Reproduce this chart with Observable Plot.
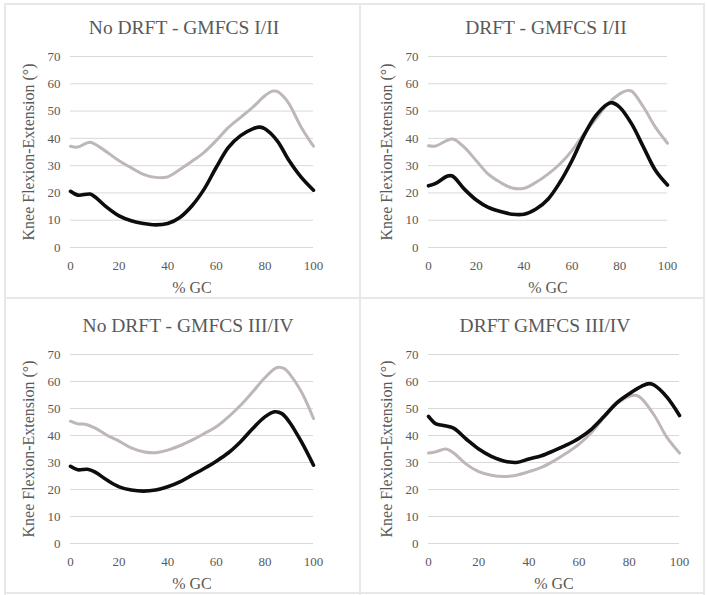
<!DOCTYPE html>
<html><head><meta charset="utf-8">
<script src="https://cdn.jsdelivr.net/npm/d3@7"></script>
<script src="https://cdn.jsdelivr.net/npm/@observablehq/plot@0.6"></script>
<style>
body{margin:0;background:#fff;}
#wrap{position:relative;width:707px;height:595px;overflow:hidden;background:#fff;font-family:"Liberation Serif",serif;}
#wrap svg, #wrap svg text{font-family:"Liberation Serif",serif !important;}
.panel{position:absolute;}
.bd{position:absolute;background:#e8e8e8;}
</style></head><body><div id="wrap"></div>
<script>
// ---- data ----
const titles = ["No DRFT - GMFCS I/II", "DRFT - GMFCS I/II", "No DRFT - GMFCS III/IV", "DRFT GMFCS III/IV"];
const xTicks = [0, 20, 40, 60, 80, 100];
const yTicks = [0, 10, 20, 30, 40, 50, 60, 70];
const xLabel = "% GC";
const yLabel = "Knee Flexion-Extension (°)";

// Panel 1: No DRFT - GMFCS I/II
const p1GrayX  = [0, 3, 8, 12, 20, 25, 30, 35, 40, 45, 50, 55, 60, 65, 70, 75, 80, 83, 85, 88, 90, 95, 100];
const p1GrayY  = [37.1, 36.8, 38.6, 36.8, 31.8, 29.2, 26.8, 25.7, 25.9, 28.6, 31.6, 34.9, 39.2, 44, 47.7, 51.4, 55.6, 57.3, 57.2, 55, 52.6, 44, 37.1];
const p1BlackX = [0, 3, 8, 10, 15, 20, 25, 30, 35, 40, 45, 50, 55, 60, 65, 70, 75, 78, 80, 85, 90, 95, 100];
const p1BlackY = [20.6, 19.2, 19.6, 18.6, 14.7, 11.6, 9.8, 8.8, 8.3, 8.8, 11, 15.3, 21.4, 29.4, 36.7, 41, 43.5, 44.1, 43.5, 39.2, 31.8, 25.7, 21];

// Panel 2: DRFT - GMFCS I/II
const p2GrayX  = [0, 3, 10, 15, 20, 25, 30, 35, 40, 45, 50, 55, 60, 65, 70, 75, 80, 83, 85, 90, 95, 100];
const p2GrayY  = [37.3, 37.2, 39.8, 36.7, 31.8, 26.9, 23.9, 21.8, 21.7, 23.9, 26.9, 30.6, 35.5, 41.6, 47.1, 52.6, 56.3, 57.5, 57.3, 51.4, 44, 38.2];
const p2BlackX = [0, 3, 8, 10, 15, 20, 25, 30, 35, 40, 45, 50, 55, 60, 65, 70, 75, 77, 80, 85, 90, 95, 100];
const p2BlackY = [22.6, 23.5, 26.2, 26.2, 21.4, 17.4, 14.7, 13.2, 12.2, 12.2, 14.1, 17.7, 23.9, 31.8, 41, 48.3, 52.6, 53, 51.4, 45.3, 36.7, 28.2, 22.9];

// Panel 3: No DRFT - GMFCS III/IV
const p3GrayX  = [0, 3, 6, 10, 15, 20, 25, 30, 35, 40, 45, 50, 55, 60, 65, 70, 75, 80, 85, 88, 90, 95, 100];
const p3GrayY  = [45.3, 44.3, 44.2, 42.8, 40.1, 37.9, 35.4, 34, 33.6, 34.6, 36.2, 38.3, 40.7, 43.2, 46.9, 51.2, 56.2, 61.4, 65.2, 64.8, 63, 56.2, 46.3];
const p3BlackX = [0, 3, 7, 10, 15, 20, 25, 30, 35, 40, 45, 50, 55, 60, 65, 70, 75, 80, 84, 87, 90, 95, 100];
const p3BlackY = [28.6, 27.3, 27.5, 26.5, 23.5, 21, 19.8, 19.4, 19.8, 21, 22.8, 25.3, 27.8, 30.5, 33.6, 37.7, 42.6, 46.9, 48.8, 48.1, 45.1, 37.7, 29];

// Panel 4: DRFT GMFCS III/IV
const p4GrayX  = [0, 3, 7, 10, 15, 20, 25, 30, 35, 40, 45, 50, 55, 60, 65, 70, 75, 80, 83, 85, 90, 95, 100];
const p4GrayY  = [33.5, 34, 35, 33.5, 29.4, 26.6, 25.3, 24.8, 25.3, 26.6, 28.2, 30.6, 33.5, 36.8, 41.2, 46.8, 51.7, 54.5, 54.8, 53.6, 47.4, 39.3, 33.5];
const p4BlackX = [0, 3, 6, 10, 15, 20, 25, 30, 35, 40, 45, 50, 55, 60, 65, 70, 75, 80, 85, 88, 90, 95, 100];
const p4BlackY = [47.1, 44.3, 43.7, 42.7, 38.7, 35, 32.3, 30.6, 30, 31.3, 32.5, 34.4, 36.5, 39, 42.4, 47.1, 52.1, 55.5, 58.3, 59.2, 58.6, 54.2, 47.4];

// ---- layout (positions/sizes) ----
const panels = [
  {left: 0,   top: 0,   width: 354, height: 298, mL: 70, mR: 41, mT: 56, mB: 51, titleDx: -8,
   gx: p1GrayX, gy: p1GrayY, bx: p1BlackX, by: p1BlackY},
  {left: 354, top: 0,   width: 353, height: 298, mL: 74, mR: 40, mT: 56, mB: 51, titleDx: -2,
   gx: p2GrayX, gy: p2GrayY, bx: p2BlackX, by: p2BlackY},
  {left: 0,   top: 298, width: 354, height: 297, mL: 70, mR: 41, mT: 56, mB: 52, titleDx: -4,
   gx: p3GrayX, gy: p3GrayY, bx: p3BlackX, by: p3BlackY},
  {left: 354, top: 298, width: 353, height: 297, mL: 74, mR: 28, mT: 56, mB: 52, titleDx: -9,
   gx: p4GrayX, gy: p4GrayY, bx: p4BlackX, by: p4BlackY}
];

const wrap = document.getElementById("wrap");
const txt = "#595959";
const font = "Liberation Serif";

// borders
[[4,3,2,592],[359,3,2,592],[703,3,2,592],[4,3,701,2],[4,297,701,2],[4,592,701,2]].forEach(([l,t,w,h]) => {
  const d = document.createElement("div");
  d.className = "bd";
  Object.assign(d.style, {left: l+"px", top: t+"px", width: w+"px", height: h+"px"});
  wrap.appendChild(d);
});

panels.forEach((p, i) => {
  const gray = p.gx.map((x, j) => ({x, y: p.gy[j]}));
  const black = p.bx.map((x, j) => ({x, y: p.by[j]}));
  const chart = Plot.plot({
    width: p.width, height: p.height,
    marginLeft: p.mL, marginRight: p.mR, marginTop: p.mT, marginBottom: p.mB,
    style: {fontSize: "13px", color: txt, background: "transparent", overflow: "visible"},
    x: {domain: [0, 100], label: null},
    y: {domain: [0, 70], label: null},
    marks: [
      Plot.gridY(yTicks, {stroke: "#d9d9d9", strokeOpacity: 1, strokeWidth: 1}),
      Plot.axisX(xTicks, {tickSize: 0, tickPadding: 13, fontFamily: font, fontSize: 13, fill: txt, label: null}),
      Plot.axisY(yTicks, {tickSize: 0, tickPadding: 10, fontFamily: font, fontSize: 13, fill: txt, label: null}),
      Plot.line(gray, {x: "x", y: "y", stroke: "#bfb7b5", strokeWidth: 3, curve: "catmull-rom"}),
      Plot.line(black, {x: "x", y: "y", stroke: "#0d0d0d", strokeWidth: 3.6, curve: "catmull-rom"}),
      Plot.text([titles[i]], {frameAnchor: "top", dy: -29, dx: p.titleDx, text: d => d, textAnchor: "middle", lineAnchor: "middle", fontFamily: font, fontSize: 19.5, fill: txt}),
      Plot.text([xLabel], {frameAnchor: "bottom", dy: 40, text: d => d, textAnchor: "middle", lineAnchor: "middle", fontFamily: font, fontSize: 16, fill: txt}),
      Plot.text([yLabel], {frameAnchor: "left", dx: -42, rotate: -90, text: d => d, textAnchor: "middle", lineAnchor: "middle", fontFamily: font, fontSize: 16, fill: txt})
    ]
  });
  const holder = document.createElement("div");
  holder.className = "panel";
  holder.style.left = p.left + "px";
  holder.style.top = p.top + "px";
  holder.appendChild(chart);
  wrap.appendChild(holder);
});
</script>
</body></html>
